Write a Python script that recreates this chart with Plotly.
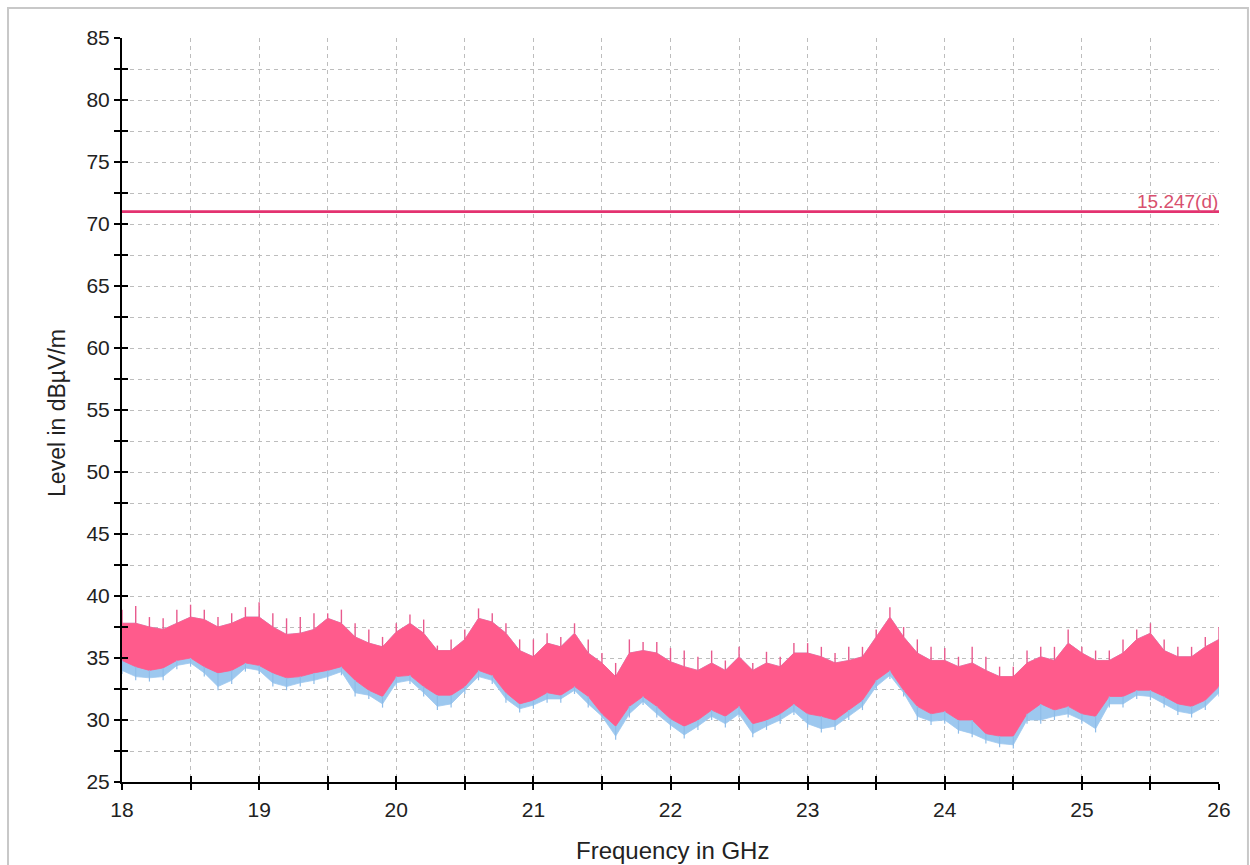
import plotly.graph_objects as go

# Scan frequencies (GHz), one envelope sample every 100 MHz
freq_ghz = [
    18.0, 18.1, 18.2, 18.3, 18.4, 18.5, 18.6, 18.7, 18.8, 18.9,
    19.0, 19.1, 19.2, 19.3, 19.4, 19.5, 19.6, 19.7, 19.8, 19.9,
    20.0, 20.1, 20.2, 20.3, 20.4, 20.5, 20.6, 20.7, 20.8, 20.9,
    21.0, 21.1, 21.2, 21.3, 21.4, 21.5, 21.6, 21.7, 21.8, 21.9,
    22.0, 22.1, 22.2, 22.3, 22.4, 22.5, 22.6, 22.7, 22.8, 22.9,
    23.0, 23.1, 23.2, 23.3, 23.4, 23.5, 23.6, 23.7, 23.8, 23.9,
    24.0, 24.1, 24.2, 24.3, 24.4, 24.5, 24.6, 24.7, 24.8, 24.9,
    25.0, 25.1, 25.2, 25.3, 25.4, 25.5, 25.6, 25.7, 25.8, 25.9,
    26.0,
]

# Peak (spike tops) of the measured trace, dBuV/m
peak_level = [
    38.9, 39.2, 38.3, 38.2, 38.9, 39.3, 38.9, 38.3, 38.6, 39.1,
    39.5, 38.6, 38.2, 38.3, 38.6, 38.6, 38.9, 37.8, 37.3, 36.7,
    37.8, 38.5, 38.1, 36.0, 36.5, 37.3, 39.0, 38.6, 37.8, 36.5,
    36.5, 37.0, 36.7, 37.8, 36.5, 35.4, 34.6, 36.5, 36.3, 36.3,
    35.8, 35.6, 35.1, 35.6, 34.8, 35.9, 34.6, 35.5, 35.1, 36.2,
    36.2, 35.9, 35.4, 35.9, 35.9, 37.3, 39.1, 37.5, 36.5, 35.9,
    35.8, 35.1, 35.9, 35.1, 34.3, 34.3, 35.6, 35.9, 35.9, 37.3,
    35.9, 35.6, 35.6, 36.5, 37.3, 37.8, 36.5, 35.9, 35.9, 36.7,
    37.5,
]

# Upper edge of the dense part of the trace, dBuV/m
body_top = [
    37.8, 37.8, 37.5, 37.3, 37.8, 38.3, 38.1, 37.5, 37.8, 38.3,
    38.3, 37.5, 36.9, 37.0, 37.3, 38.2, 37.8, 36.7, 36.2, 35.9,
    37.1, 37.8, 37.0, 35.6, 35.6, 36.5, 38.2, 37.9, 37.0, 35.6,
    35.1, 36.2, 35.9, 37.0, 35.4, 34.6, 33.5, 35.4, 35.6, 35.4,
    34.7, 34.3, 34.0, 34.6, 34.0, 35.1, 34.0, 34.6, 34.3, 35.4,
    35.4, 35.1, 34.6, 34.8, 35.1, 36.7, 38.3, 36.7, 35.4, 34.8,
    34.8, 34.3, 34.6, 34.0, 33.5, 33.5, 34.6, 35.1, 34.8, 36.2,
    35.4, 34.8, 34.8, 35.4, 36.5, 37.0, 35.6, 35.1, 35.1, 35.9,
    36.5,
]

# Lower edge of the trace, dBuV/m
body_low = [
    34.8, 34.3, 34.0, 34.2, 34.8, 35.0, 34.3, 33.8, 34.0, 34.6,
    34.4, 33.8, 33.4, 33.5, 33.8, 34.0, 34.3, 33.2, 32.4, 31.9,
    33.5, 33.6, 32.7, 32.0, 32.0, 32.7, 34.0, 33.6, 32.2, 31.3,
    31.6, 32.2, 32.0, 32.7, 31.9, 30.5, 29.5, 31.1, 31.9, 31.1,
    30.1, 29.5, 30.0, 30.8, 30.3, 31.1, 29.7, 30.0, 30.5, 31.3,
    30.5, 30.3, 30.0, 30.8, 31.6, 33.2, 34.0, 32.4, 31.1, 30.5,
    30.7, 30.0, 30.0, 28.9, 28.7, 28.7, 30.5, 31.3, 30.8, 31.1,
    30.5, 30.3, 31.9, 31.9, 32.4, 32.4, 31.9, 31.3, 31.1, 31.6,
    32.7,
]

# Lower edge of the second (blue) trace, dBuV/m
blue_low = [
    34.0, 33.5, 33.4, 33.5, 34.4, 34.6, 33.8, 32.7, 33.2, 34.2,
    34.0, 33.0, 32.7, 33.0, 33.2, 33.5, 33.9, 32.2, 32.0, 31.3,
    33.0, 33.2, 32.2, 31.1, 31.3, 32.4, 33.5, 33.2, 31.7, 30.9,
    31.2, 31.7, 31.7, 32.4, 31.3, 30.3, 28.7, 30.5, 31.5, 30.5,
    29.6, 28.8, 29.5, 30.3, 29.7, 30.5, 28.9, 29.5, 30.0, 30.7,
    29.7, 29.3, 29.5, 30.3, 31.1, 32.7, 33.6, 32.2, 30.3, 29.9,
    30.0, 29.2, 28.9, 28.4, 28.1, 28.0, 30.0, 30.0, 30.3, 30.5,
    30.0, 29.3, 31.3, 31.3, 32.0, 31.9, 31.3, 30.7, 30.5, 31.1,
    32.2,
]

# FCC 15.247(d) limit line
limit_freq = [18.0, 26.0]
limit_level = [71.0, 71.0]
limit_name = "15.247(d)"

x_ticks = [18, 19, 20, 21, 22, 23, 24, 25, 26]
y_ticks = [25, 30, 35, 40, 45, 50, 55, 60, 65, 70, 75, 80, 85]

PINK = "#ff5b8c"
BLUE = "#9dc8ef"
LIMIT = "#e33270"
FONT = "Liberation Sans, Arial, sans-serif"

fig = go.Figure()

# blue trace band (sits underneath the pink one)
fig.add_trace(go.Scatter(
    x=freq_ghz + freq_ghz[::-1],
    y=body_top + blue_low[::-1],
    fill="toself", fillcolor=BLUE, mode="lines",
    line=dict(width=0.8, color=BLUE), hoverinfo="skip", showlegend=False,
))

# pink trace band
fig.add_trace(go.Scatter(
    x=freq_ghz + freq_ghz[::-1],
    y=body_top + body_low[::-1],
    fill="toself", fillcolor=PINK, mode="lines",
    line=dict(width=0.8, color=PINK), hoverinfo="skip", showlegend=False,
))

# spike tops of the pink trace
spx, spy = [], []
for f, b, p in zip(freq_ghz, body_top, peak_level):
    spx += [f, f, None]
    spy += [b, p, None]
fig.add_trace(go.Scatter(
    x=spx, y=spy, mode="lines",
    line=dict(width=1.4, color="#e85a8e"), hoverinfo="skip", showlegend=False,
))

# blue spikes reaching below the pink band
bsx, bsy = [], []
for f, lo, bl in zip(freq_ghz, body_low, blue_low):
    bsx += [f, f, None]
    bsy += [lo, bl - 0.3, None]
fig.add_trace(go.Scatter(
    x=bsx, y=bsy, mode="lines",
    line=dict(width=1.2, color="#8fbde9"), hoverinfo="skip", showlegend=False,
))

# limit line
fig.add_trace(go.Scatter(
    x=limit_freq, y=limit_level, mode="lines",
    line=dict(width=2.8, color=LIMIT), hoverinfo="skip", showlegend=False,
))

fig.add_annotation(
    x=limit_freq[-1], y=limit_level[-1], xref="x", yref="y",
    text=limit_name, showarrow=False, xanchor="right", yanchor="bottom",
    font=dict(family=FONT, size=19, color="#d8506e"), borderpad=0, yshift=-1,
)

# axis titles
fig.add_annotation(
    x=-0.0593, y=0.496, xref="paper", yref="paper", text="Level in dBµV/m",
    textangle=-90, showarrow=False, xanchor="center", yanchor="middle",
    font=dict(family=FONT, size=23, color="#222222"),
)
fig.add_annotation(
    x=0.5014, y=-0.0927, xref="paper", yref="paper", text="Frequency in GHz",
    showarrow=False, xanchor="center", yanchor="middle",
    font=dict(family=FONT, size=24, color="#222222"),
)

grid = dict(gridcolor="#bdbdbd", griddash="4px,4px", gridwidth=1)

fig.update_layout(
    width=1250, height=865,
    margin=dict(l=122, r=31, t=38, b=83),
    paper_bgcolor="white", plot_bgcolor="white",
    font=dict(family=FONT, size=21, color="#222222"),
    showlegend=False,
    xaxis=dict(
        range=[18, 26], tickvals=x_ticks, showgrid=True, **grid,
        showline=True, linecolor="black", linewidth=2,
        ticks="outside", ticklen=6, tickwidth=2, tickcolor="black",
        ticklabelstandoff=2, zeroline=False,
        minor=dict(dtick=0.5, ticks="outside", ticklen=6, tickwidth=2,
                   tickcolor="black", showgrid=True, **grid),
    ),
    yaxis=dict(
        range=[25, 85], tickvals=y_ticks, showgrid=True, **grid,
        showline=True, linecolor="black", linewidth=2,
        ticks="outside", ticklen=6, tickwidth=2, tickcolor="black",
        ticklabelstandoff=0, zeroline=False,
        minor=dict(dtick=2.5, ticks="outside", ticklen=6, tickwidth=2,
                   tickcolor="black", showgrid=True, **grid),
    ),
    # companion axes carrying the inner half of the crossing tick marks
    xaxis2=dict(
        range=[18, 26], overlaying="x", anchor="y", side="bottom",
        dtick=0.5, tick0=18, ticks="inside", ticklen=6, tickwidth=2,
        tickcolor="black", showticklabels=False, showgrid=False,
        showline=False, zeroline=False,
    ),
    yaxis2=dict(
        range=[25, 85], overlaying="y", anchor="x", side="left",
        dtick=2.5, tick0=25, ticks="inside", ticklen=6, tickwidth=2,
        tickcolor="black", showticklabels=False, showgrid=False,
        showline=False, zeroline=False,
    ),
)

# dummy traces so the companion axes are drawn
fig.add_trace(go.Scatter(x=[None], y=[None], xaxis="x2", yaxis="y",
                         showlegend=False, hoverinfo="skip"))
fig.add_trace(go.Scatter(x=[None], y=[None], xaxis="x", yaxis="y2",
                         showlegend=False, hoverinfo="skip"))

# thin frame around the whole chart
fig.add_shape(type="rect", xref="paper", yref="paper",
              x0=-0.1039, x1=1.0264, y0=-0.1129, y1=1.0403,
              line=dict(color="#c8c8c8", width=2), fillcolor="rgba(0,0,0,0)",
              layer="below")

fig.write_html("out.html")
